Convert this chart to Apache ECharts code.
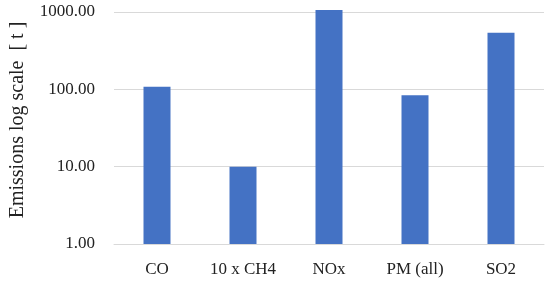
<!DOCTYPE html>
<html>
<head>
<meta charset="utf-8">
<script src="https://cdn.jsdelivr.net/npm/echarts@6/dist/echarts.min.js"></script>
<style>
html, body { margin: 0; padding: 0; background: #fff; }
#chart { width: 550px; height: 283px; }
</style>
</head>
<body>
<div id="chart"></div>
<script>
// 数据
var categories = ['CO', '10 x CH4', 'NOx', 'PM (all)', 'SO2'];
var emissions = [108, 10, 1060, 84, 540];
var yName = 'Emissions log scale  [ t ]';

var font = 'Liberation Serif';
var myChart = echarts.init(document.getElementById('chart'));

var option = {
    animation: false,
    grid: {
        left: 110,
        right: 6,
        top: 12,
        bottom: 39
    },
    xAxis: {
        type: 'category',
        data: categories,
        axisTick: { show: false },
        axisLine: { lineStyle: { color: '#d9d9d9', width: 1 } },
        axisLabel: {
            color: '#222',
            fontFamily: font,
            fontSize: 17,
            margin: 17
        }
    },
    yAxis: {
        type: 'log',
        logBase: 10,
        min: 1,
        max: 1000,
        name: yName,
        nameLocation: 'middle',
        nameGap: 86,
        nameTextStyle: {
            color: '#222',
            fontFamily: font,
            fontSize: 20,
            padding: [0, 0, 0, 16]
        },
        axisLine: { show: false },
        axisTick: { show: false },
        splitLine: { lineStyle: { color: '#d9d9d9', width: 1 } },
        axisLabel: {
            color: '#222',
            fontFamily: font,
            fontSize: 17,
            margin: 19,
            formatter: function (v) { return v.toFixed(2); }
        }
    },
    series: [{
        type: 'bar',
        data: emissions,
        barWidth: 27,
        clip: false,
        itemStyle: { color: '#4472C4' }
    }]
};
myChart.setOption(option);
</script>
</body>
</html>
